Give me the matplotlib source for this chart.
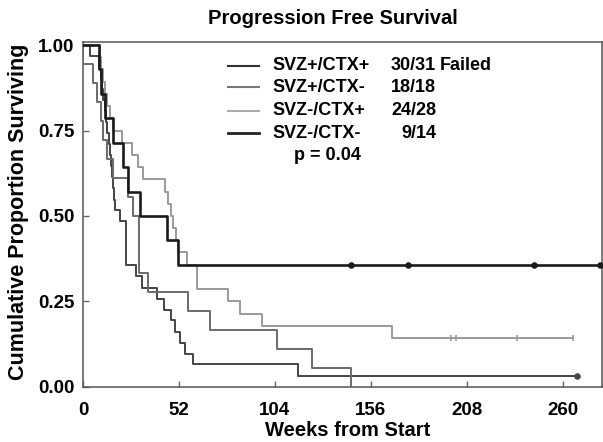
import matplotlib
matplotlib.use("Agg")
import matplotlib.pyplot as plt

plt.rcParams['font.family'] = ['Liberation Sans', 'DejaVu Sans']
plt.rcParams['font.weight'] = 'bold'

## Kaplan-Meier step data (weeks, proportion surviving)
## SVZ+/CTX+  (31 patients, 30 failed)
t_pp = [0, 4, 8.7, 9.5, 10.5, 11, 12, 12.5, 13, 14, 14.5, 15, 15.5, 16.5, 17,
        17.3, 19.8, 23.3, 28.7, 31.8, 40, 44, 47.5, 50, 52.5, 55.3, 59.7, 116.6]
s_pp = [1, .968, .935, .903, .871, .839, .806, .774, .742, .710, .677, .645, .613,
        .581, .548, .516, .484, .355, .323, .290, .258, .226, .194, .161, .129,
        .097, .065, .032]
c_pp = [267.7]

## SVZ+/CTX-  (18 patients, 18 failed)
t_pm = [0, 0, 5.4, 7.5, 9.5, 11, 13, 16.4, 24.6, 27, 30.5, 35, 57, 69, 105, 124, 145]
s_pm = [1, .944, .889, .833, .778, .722, .667, .611, .556, .5, .333, .278, .222,
        .167, .111, .056, 0]
c_pm = []

## SVZ-/CTX+  (28 patients, 24 failed)
t_mp = [0, 9, 10, 11, 12, 13, 14.5, 16.4, 21, 26.4, 30, 32.5, 44.4, 46, 47.5, 49,
        50.5, 51.5, 56.4, 61.8, 78.6, 85, 96.8, 167.4]
s_mp = [1, .964, .929, .893, .857, .821, .786, .75, .714, .679, .643, .607, .571,
        .536, .5, .464, .429, .393, .357, .286, .25, .214, .179, .143]
c_mp = [199.7, 202.4, 235, 265.6]

## SVZ-/CTX-  (14 patients, 9 failed)
t_mm = [0, 8.7, 10, 11.8, 16.4, 21.9, 24.5, 30.9, 45.3, 51.5]
s_mm = [1, .929, .857, .786, .714, .643, .571, .5, .429, .357]
c_mm = [145, 176.4, 244.3, 280]

groups = ["SVZ+/CTX+", "SVZ+/CTX-", "SVZ-/CTX+", "SVZ-/CTX-"]
counts = ["30/31", "18/18", "24/28", "9/14"]
p_text = "p = 0.04"
xticks = [0, 52, 104, 156, 208, 260]
yticks = [0.0, 0.25, 0.5, 0.75, 1.0]

fig = plt.figure(figsize=(6.03, 4.42), dpi=100)
ax = fig.add_axes([83/603, 1-386.7/442, (601.5-83)/603, (386.7-41.7)/442])

styles = [("#444444", 1.4, "o", 3.5),
          ("#6a6a6a", 1.4, None, 0),
          ("#9a9a9a", 1.4, "|", 5),
          ("#1a1a1a", 1.9, "o", 3.5)]
data = [(t_pp, s_pp, c_pp), (t_pm, s_pm, c_pm), (t_mp, s_mp, c_mp), (t_mm, s_mm, c_mm)]

for (t, s, c), (col, lw, mk, ms) in zip(data, styles):
    tt = list(t)
    ss = list(s)
    if c:
        tt.append(max(c))
        ss.append(s[-1])
    ax.step(tt, ss, where='post', color=col, lw=lw, zorder=3)
    if c and mk:
        ax.plot(c, [s[-1]]*len(c), ls='none', marker=mk, ms=ms, color=col,
                mew=1.2, zorder=4, clip_on=False)

ax.set_xlim(0, 281)
ax.set_ylim(0, 1.01)
ax.set_xticks(xticks)
ax.set_yticks(yticks)
ax.set_xticklabels([str(v) for v in xticks])
ax.set_yticklabels(["%.2f" % v for v in yticks])
ax.tick_params(direction='in', length=4, width=1, color='#666666', labelsize=13.5, pad=6)
ax.tick_params(axis='x', pad=11)
for sp in ax.spines.values():
    sp.set_color('#555555')
    sp.set_linewidth(1.1)

## legend drawn by hand, like the original
leg_cols = ["#333333", "#777777", "#aaaaaa", "#222222"]
leg_lw = [1.5, 1.5, 1.5, 2.0]
rows_y = [65.7, 87.3, 110.7, 133.3]
for i in range(4):
    yf = 1 - rows_y[i]/442
    fig.add_artist(plt.Line2D([228/603, 259/603], [yf, yf], color=leg_cols[i], lw=leg_lw[i]))
    fig.text(272/603, yf, groups[i], ha='left', va='center', size=13)
    fig.text(436/603, yf, counts[i], ha='right', va='center', size=13)
fig.text(440/603, 1 - rows_y[0]/442, "Failed", ha='left', va='center', size=13)
fig.text(327/603, 1 - 155/442, p_text, ha='center', va='center', size=13)

fig.text(333/603, 1 - 18/442, "Progression Free Survival", ha='center', va='center', size=14.5)
fig.text(348/603, 1 - 431/442, "Weeks from Start", ha='center', va='center', size=14.5)
fig.text(19/603, 1 - 212/442, "Cumulative Proportion Surviving", ha='center', va='center',
         rotation=90, size=15.5)

fig.savefig("out.png", dpi=100)
